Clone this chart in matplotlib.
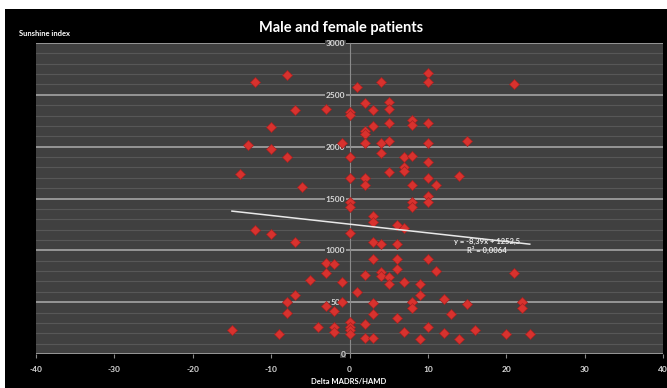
import matplotlib
matplotlib.use("Agg")
import matplotlib.pyplot as plt
from matplotlib.patches import Rectangle
import numpy as np

# ---- data ----
delta = [-15, -14, -13, -12, -12, -10, -10, -10, -9, -8, -8, -8, -8, -7, -7, -7, -6, -5, -4,
         -3, -3, -3, -3, -2, -2, -2, -2, -1, -1, -1,
         0, 0, 0, 0, 0, 0, 0, 0, 0, 0, 0,
         1, 1, 2, 2, 2, 2, 2, 2, 2, 2, 2,
         3, 3, 3, 3, 3, 3, 3, 3, 3,
         4, 4, 4, 4, 4, 4,
         5, 5, 5, 5, 5, 5, 5,
         6, 6, 6, 6, 6,
         7, 7, 7, 7, 7, 7,
         8, 8, 8, 8, 8, 8, 8, 8,
         9, 9, 9,
         10, 10, 10, 10, 10, 10, 10, 10, 10, 10,
         11, 11, 12, 12, 13, 14, 14, 15, 15, 16, 20, 21, 21, 22, 22, 23]
sunshine = [232, 1732, 2020, 2620, 1192, 2185, 1980, 1158, 195, 2690, 1902, 497, 400, 2353, 1082, 572, 1611, 712, 265,
            2360, 879, 783, 463, 870, 415, 262, 214, 2034, 696, 497,
            2338, 2310, 1898, 1697, 1465, 1415, 1163, 310, 262, 228, 190,
            2575, 602, 2417, 2155, 2118, 2034, 1697, 1629, 760, 290, 155,
            2350, 2200, 1330, 1277, 1085, 915, 490, 387, 152,
            2622, 2031, 1935, 1057, 793, 754,
            2433, 2359, 2230, 2057, 1751, 744, 671,
            1249, 1057, 915, 819, 345,
            1896, 1800, 1770, 1211, 696, 208,
            2256, 2208, 1909, 1629, 1468, 1420, 497, 447,
            674, 567, 140,
            2713, 2620, 2230, 2031, 1848, 1700, 1520, 1468, 921, 265,
            1629, 802, 529, 198, 388, 1719, 140, 2054, 478, 230, 195, 2604, 777, 497, 444, 195]

trend_slope = -8.39
trend_intercept = 1252.5
trend_label = "y = -8,39x + 1252,5"
r2_label = "R² = 0,0064"

x_ticks = [-40, -30, -20, -10, 0, 10, 20, 30, 40]
y_ticks = [0, 500, 1000, 1500, 2000, 2500, 3000]

title = "Male and female patients"
x_label = "Delta MADRS/HAMD"
y_label = "Sunshine index"

# ---- figure ----
W, H = 667, 388
fig = plt.figure(figsize=(W / 100, H / 100), dpi=100, facecolor="white")
fig.patches.append(Rectangle((5 / W, 0), 1 - 5 / W, 1 - 9 / H, transform=fig.transFigure,
                             facecolor="black", edgecolor="none", zorder=-10))

left, right = 36 / W, 663 / W
bottom, top = 1 - 354 / H, 1 - 43 / H
ax = fig.add_axes([left, bottom, right - left, top - bottom])
ax.set_zorder(1)
ax.set_facecolor("#404040")
ax.set_xlim(-40, 40)
ax.set_ylim(0, 3000)

# grid lines
for v in range(0, 3001, 100):
    if v % 500 == 0:
        ax.axhline(v, color="#9c9c9c", lw=1.3, zorder=1)
    else:
        ax.axhline(v, color="#575757", lw=0.8, zorder=1)

for s in ["top", "right", "bottom"]:
    ax.spines[s].set_visible(False)
ax.spines["left"].set_position(("data", 0))
ax.spines["left"].set_color("#8a8a8a")
ax.spines["left"].set_linewidth(0.8)
ax.spines["left"].set_zorder(1.5)

font = "Lato"
ax.set_xticks(x_ticks)
ax.set_xticklabels([str(t) for t in x_ticks], fontsize=6, fontweight="bold",
                   color="#d8d8d8", family=font)
ax.tick_params(axis="x", length=3, color="#8a8a8a", pad=6)
ax.set_yticks(y_ticks)
ax.set_yticklabels([str(t) for t in y_ticks], fontsize=6, fontweight="bold",
                   color="#d8d8d8", family=font)
ax.tick_params(axis="y", length=0, pad=3)
for lab in ax.get_yticklabels():
    lab.set_bbox(dict(facecolor="#404040", edgecolor="none", pad=0.3))

# scatter points
ax.plot(delta, sunshine, linestyle="none", marker="D", markersize=5.2,
        markerfacecolor="#d8322e", markeredgecolor="#a82020", markeredgewidth=0.5, zorder=3)

# trend line
xs = np.array([min(delta), max(delta)])
ax.plot(xs, trend_slope * xs + trend_intercept, color="#e8e8e8", lw=1.1, zorder=4)
ax.text(17.6, 1090, trend_label, fontsize=5.5, color="#e8e8e8", ha="center", va="center",
        family=font, fontweight="bold", zorder=5)
ax.text(17.5, 1000, r2_label, fontsize=5.5, color="#e8e8e8", ha="center", va="center",
        family=font, fontweight="bold", zorder=5)

# texts
fig.text(341 / W, 1 - 28 / H, title, fontsize=10.5, fontweight="bold", color="white",
         ha="center", va="center", family=font)
fig.text(19 / W, 1 - 33 / H, y_label, fontsize=5.5, fontweight="bold", color="white",
         ha="left", va="center", family=font)
fig.text(349 / W, 1 - 382 / H, x_label, fontsize=5.5, fontweight="bold", color="white",
         ha="center", va="center", family=font)

fig.savefig("out.png", dpi=100, facecolor="white")
